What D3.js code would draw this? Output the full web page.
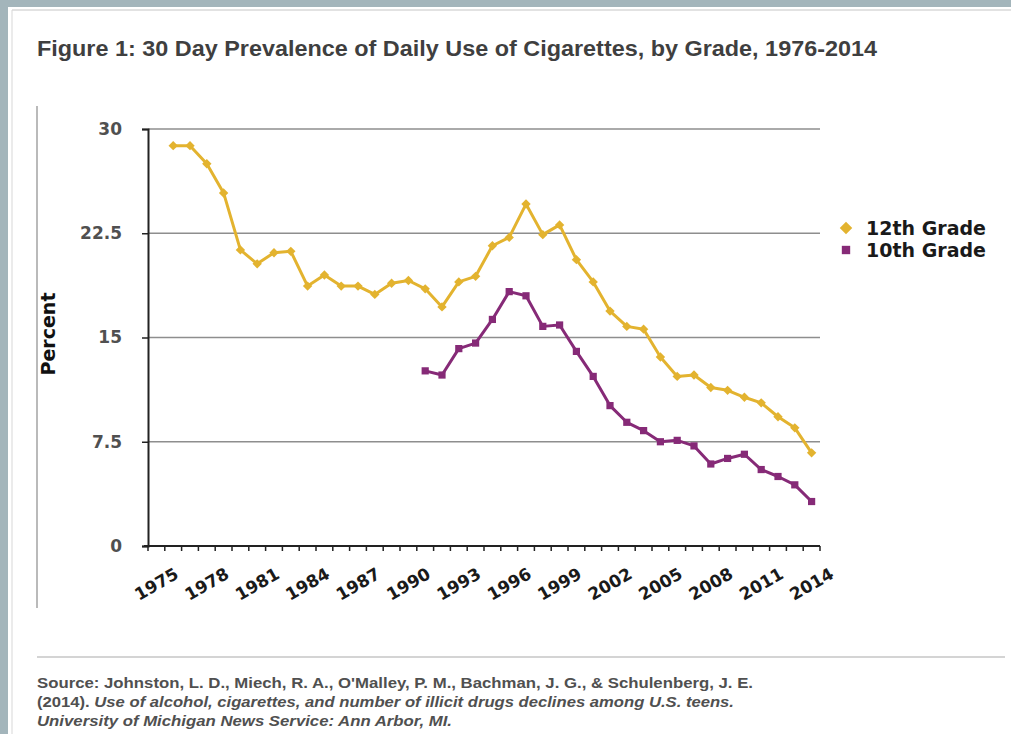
<!DOCTYPE html>
<html>
<head>
<meta charset="utf-8">
<script src="https://cdn.jsdelivr.net/npm/d3@7"></script>
<style>
  body { margin: 0; background: #a3b5bb; }
  svg { display: block; }
</style>
</head>
<body>
<script>
// categories on the x axis (one slot per year)
var years = [1975, 1976, 1977, 1978, 1979, 1980, 1981, 1982, 1983, 1984,
	1985, 1986, 1987, 1988, 1989, 1990, 1991, 1992, 1993, 1994,
	1995, 1996, 1997, 1998, 1999, 2000, 2001, 2002, 2003, 2004,
	2005, 2006, 2007, 2008, 2009, 2010, 2011, 2012, 2013, 2014];

var tickYears = [1975, 1978, 1981, 1984, 1987, 1990, 1993, 1996, 1999, 2002, 2005, 2008, 2011, 2014];
var yTicks = [0, 7.5, 15, 22.5, 30];

// 12th grade, 1976-2014
var years12 = [1976, 1977, 1978, 1979, 1980, 1981, 1982, 1983, 1984, 1985,
	1986, 1987, 1988, 1989, 1990, 1991, 1992, 1993, 1994, 1995,
	1996, 1997, 1998, 1999, 2000, 2001, 2002, 2003, 2004, 2005,
	2006, 2007, 2008, 2009, 2010, 2011, 2012, 2013, 2014];
var grade12 = [28.8, 28.8, 27.5, 25.4, 21.3, 20.3, 21.1, 21.2, 18.7, 19.5,
	18.7, 18.7, 18.1, 18.9, 19.1, 18.5, 17.2, 19.0, 19.4, 21.6,
	22.2, 24.6, 22.4, 23.1, 20.6, 19.0, 16.9, 15.8, 15.6, 13.6,
	12.2, 12.3, 11.4, 11.2, 10.7, 10.3, 9.3, 8.5, 6.7];

// 10th grade, 1991-2014
var years10 = [1991, 1992, 1993, 1994, 1995, 1996, 1997, 1998, 1999, 2000,
	2001, 2002, 2003, 2004, 2005, 2006, 2007, 2008, 2009, 2010,
	2011, 2012, 2013, 2014];
var grade10 = [12.6, 12.3, 14.2, 14.6, 16.3, 18.3, 18.0, 15.8, 15.9, 14.0,
	12.2, 10.1, 8.9, 8.3, 7.5, 7.6, 7.2, 5.9, 6.3, 6.6,
	5.5, 5.0, 4.4, 3.2];

var seriesNames = ["12th Grade", "10th Grade"];
var colors = ["#e3b32f", "#862a77"];

var width = 1011, height = 734;

var svg = d3.select("body").append("svg")
	.attr("width", width)
	.attr("height", height);

// white page with thin frame lines
svg.append("rect").attr("x", 8).attr("y", 7).attr("width", width - 8).attr("height", height - 7).style("fill", "#fff");
svg.append("line").attr("x1", 12).attr("x2", 12).attr("y1", 10).attr("y2", height)
	.style("stroke", "#e4e4e4").style("stroke-width", 1.5);
svg.append("line").attr("x1", 12).attr("x2", width).attr("y1", 10).attr("y2", 10)
	.style("stroke", "#d8d8d8").style("stroke-width", 1.5);

// chart object border (left side) and separator above the source
svg.append("line").attr("x1", 37).attr("x2", 37).attr("y1", 106).attr("y2", 608)
	.style("stroke", "#8c8c8c").style("stroke-width", 1.2);
svg.append("line").attr("x1", 37).attr("x2", 1005).attr("y1", 657).attr("y2", 657)
	.style("stroke", "#d4d4d4").style("stroke-width", 2);

// title (condensed, like Arial Narrow)
svg.append("text")
	.attr("x", 37).attr("y", 56)
	.attr("textLength", 840).attr("lengthAdjust", "spacingAndGlyphs")
	.style("font-family", "'Liberation Sans Narrow', 'Liberation Sans', Arial, sans-serif")
	.style("font-weight", "bold").style("font-size", "22px").style("fill", "#3f3f3f")
	.text("Figure 1: 30 Day Prevalence of Daily Use of Cigarettes, by Grade, 1976-2014");

// scales
var xBand = d3.scaleBand().domain(years).range([148, 820]).paddingInner(0).paddingOuter(0);
var xScale = function (yr) { return xBand(yr) + xBand.bandwidth() / 2; };
var yScale = d3.scaleLinear().domain([0, 30]).range([546, 129]);

// gridlines
svg.append("g").selectAll("line")
	.data(yTicks.filter(function (t) { return t > 0; }))
	.enter().append("line")
	.attr("x1", 148).attr("x2", 820)
	.attr("y1", function (t) { return yScale(t); })
	.attr("y2", function (t) { return yScale(t); })
	.style("stroke", "#8e8e8e").style("stroke-width", 1.6);

// y axis
var yAxis = d3.axisLeft(yScale)
	.tickValues(yTicks)
	.tickSize(6)
	.tickPadding(20)
	.tickFormat(function (d) { return d; });

var yG = svg.append("g").attr("transform", "translate(148,0)").call(yAxis);
yG.select(".domain").style("stroke", "#222").style("stroke-width", 2);
yG.selectAll(".tick line").style("stroke", "#222").style("stroke-width", 1.5);
yG.selectAll(".tick text")
	.style("font-family", "'DejaVu Sans', Verdana, sans-serif")
	.style("font-weight", "bold").style("font-size", "17px").style("fill", "#505050");

svg.append("text")
	.attr("transform", "translate(55,334) rotate(-90)")
	.attr("text-anchor", "middle")
	.style("font-family", "'DejaVu Sans', Verdana, sans-serif")
	.style("font-weight", "bold").style("font-size", "19px").style("fill", "#111")
	.text("Percent");

// x axis line and boundary ticks
svg.append("line").attr("x1", 144).attr("x2", 820).attr("y1", 546).attr("y2", 546)
	.style("stroke", "#222").style("stroke-width", 2);
svg.append("g").selectAll("line")
	.data(years.concat(["end"]))
	.enter().append("line")
	.attr("x1", function (d) { return d === "end" ? 820 : xBand(d); })
	.attr("x2", function (d) { return d === "end" ? 820 : xBand(d); })
	.attr("y1", 546).attr("y2", 551)
	.style("stroke", "#222").style("stroke-width", 1.5);

svg.append("g").selectAll("text")
	.data(tickYears)
	.enter().append("text")
	.attr("transform", function (d) { return "translate(" + xScale(d) + ",584) rotate(-30)"; })
	.attr("text-anchor", "middle")
	.attr("dy", "0.35em")
	.style("font-family", "'DejaVu Sans', Verdana, sans-serif")
	.style("font-weight", "bold").style("font-size", "17px").style("fill", "#1a1a1a")
	.text(function (d) { return d; });

// lines
var line = d3.line()
	.x(function (d) { return xScale(d[0]); })
	.y(function (d) { return yScale(d[1]); });

var data12 = years12.map(function (yr, i) { return [yr, grade12[i]]; });
var data10 = years10.map(function (yr, i) { return [yr, grade10[i]]; });

svg.append("path").datum(data12).attr("d", line)
	.style("fill", "none").style("stroke", colors[0]).style("stroke-width", 3)
	.style("stroke-linejoin", "round");
svg.append("path").datum(data10).attr("d", line)
	.style("fill", "none").style("stroke", colors[1]).style("stroke-width", 3)
	.style("stroke-linejoin", "round");

// markers
var diamond = d3.symbol().type(d3.symbolDiamond2).size(56);
var square = d3.symbol().type(d3.symbolSquare).size(52);

svg.append("g").selectAll("path")
	.data(data12)
	.enter().append("path")
	.attr("d", diamond)
	.attr("transform", function (d) { return "translate(" + xScale(d[0]) + "," + yScale(d[1]) + ")"; })
	.style("fill", colors[0]);

svg.append("g").selectAll("path")
	.data(data10)
	.enter().append("path")
	.attr("d", square)
	.attr("transform", function (d) { return "translate(" + xScale(d[0]) + "," + yScale(d[1]) + ")"; })
	.style("fill", colors[1]);

// legend
var legend = svg.append("g").selectAll("g")
	.data(seriesNames)
	.enter().append("g")
	.attr("transform", function (d, i) { return "translate(846," + (228 + i * 22) + ")"; });

legend.append("path")
	.attr("d", function (d, i) { return i === 0 ? d3.symbol().type(d3.symbolDiamond2).size(100)() : d3.symbol().type(d3.symbolSquare).size(70)(); })
	.style("fill", function (d, i) { return colors[i]; });
legend.append("text")
	.attr("x", 20).attr("dy", "0.36em")
	.style("font-family", "'DejaVu Sans', Verdana, sans-serif")
	.style("font-weight", "bold").style("font-size", "19px").style("fill", "#1a1a1a")
	.text(function (d) { return d; });

// source note
var src = svg.append("g")
	.style("font-family", "'Liberation Sans Narrow', 'Liberation Sans', Arial, sans-serif")
	.style("font-weight", "bold").style("font-size", "15px").style("fill", "#505050");

src.append("text").attr("x", 37).attr("y", 688)
	.attr("textLength", 716).attr("lengthAdjust", "spacingAndGlyphs")
	.text("Source: Johnston, L. D., Miech, R. A., O'Malley, P. M., Bachman, J. G., & Schulenberg, J. E.");

var line2 = src.append("text").attr("x", 37).attr("y", 707)
	.attr("textLength", 697).attr("lengthAdjust", "spacingAndGlyphs");
line2.append("tspan").text("(2014). ");
line2.append("tspan").style("font-style", "italic")
	.text("Use of alcohol, cigarettes, and number of illicit drugs declines among U.S. teens.");

src.append("text").attr("x", 37).attr("y", 726)
	.attr("textLength", 415).attr("lengthAdjust", "spacingAndGlyphs")
	.style("font-style", "italic")
	.text("University of Michigan News Service: Ann Arbor, MI.");
</script>
</body>
</html>
